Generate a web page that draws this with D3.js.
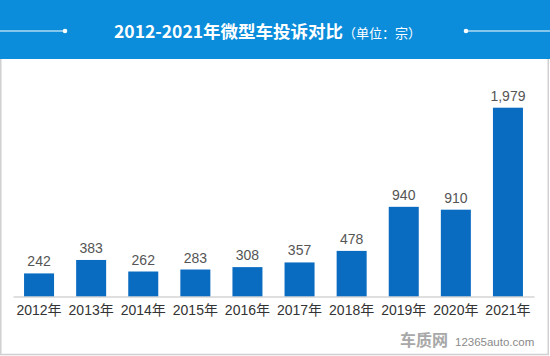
<!DOCTYPE html>
<html><head><meta charset="utf-8">
<script src="https://cdn.jsdelivr.net/npm/d3@7"></script>
<style>body{margin:0;background:#fff}svg{display:block}</style>
</head><body>
<svg id="c" width="550" height="356"></svg>
<script>
const categories = ["2012年","2013年","2014年","2015年","2016年","2017年","2018年","2019年","2020年","2021年"];
const values = [242,383,262,283,308,357,478,940,910,1979];
const titleMain = "2012-2021年微型车投诉对比";
const titleUnit = "（单位：宗）";

const svg = d3.select("#c");
const W = 550, H = 356;
const cn = "'Noto Sans CJK SC','Microsoft YaHei',sans-serif";
const numFont = "'Liberation Sans','Noto Sans CJK SC',sans-serif";

// panel border
svg.append("rect").attr("x",0.75).attr("y",0).attr("width",W-2.5).attr("height",H-1.5)
  .attr("fill","#fff").attr("stroke","#d0d0d0").attr("stroke-width",1.5);

// header
svg.append("rect").attr("x",0).attr("y",0).attr("width",W).attr("height",59).attr("fill","#0b8ddb");
svg.append("line").attr("x1",0).attr("x2",65).attr("y1",31).attr("y2",31).attr("stroke","#fff").attr("stroke-width",1);
svg.append("circle").attr("cx",65).attr("cy",31).attr("r",2.3).attr("fill","#fff");
svg.append("line").attr("x1",466).attr("x2",550).attr("y1",31).attr("y2",31).attr("stroke","#fff").attr("stroke-width",1);
svg.append("circle").attr("cx",466).attr("cy",31).attr("r",2.3).attr("fill","#fff");
const t = svg.append("text").attr("x",114).attr("y",37.5).attr("fill","#fff").attr("font-family",cn);
t.append("tspan").attr("font-size",17.5).attr("font-weight","bold").text(titleMain);
t.append("tspan").attr("font-size",13).text(titleUnit);

// scales
const x = d3.scaleBand().domain(categories).range([13,534]).paddingInner(0.424).paddingOuter(0.212);
const y = d3.scaleLinear().domain([0,1979]).range([296.5,107.7]);

svg.append("g").selectAll("rect").data(values).join("rect")
  .attr("x",(d,i)=>x(categories[i])).attr("width",x.bandwidth())
  .attr("y",d=>y(d)).attr("height",d=>y(0)-y(d)).attr("fill","#0a6cc1");

// axis
const ax = svg.append("g").attr("transform",`translate(0,${y(0)})`)
  .call(d3.axisBottom(x).tickSize(0).tickPadding(9));
ax.select(".domain").attr("stroke","#bfbfbf").attr("stroke-width",1.2);
ax.selectAll("text").attr("font-family",numFont).attr("font-size",14).attr("fill","#333");

// value labels
const fmt = d3.format(",");
svg.append("g").selectAll("text").data(values).join("text")
  .attr("x",(d,i)=>x(categories[i])+x.bandwidth()/2).attr("y",d=>y(d)-7)
  .attr("text-anchor","middle").attr("font-family",numFont).attr("font-size",14).attr("fill","#555")
  .text(d=>fmt(d));

// watermark
svg.append("text").attr("x",400).attr("y",346).attr("font-family",cn).attr("font-size",16)
  .attr("font-weight","bold").attr("fill","#a8a8a8").text("车质网");
svg.append("text").attr("x",455).attr("y",346).attr("font-family","'Liberation Sans',sans-serif").attr("font-size",11.5)
  .attr("fill","#8a8a8a").text("12365auto.com");
</script>
</body></html>
